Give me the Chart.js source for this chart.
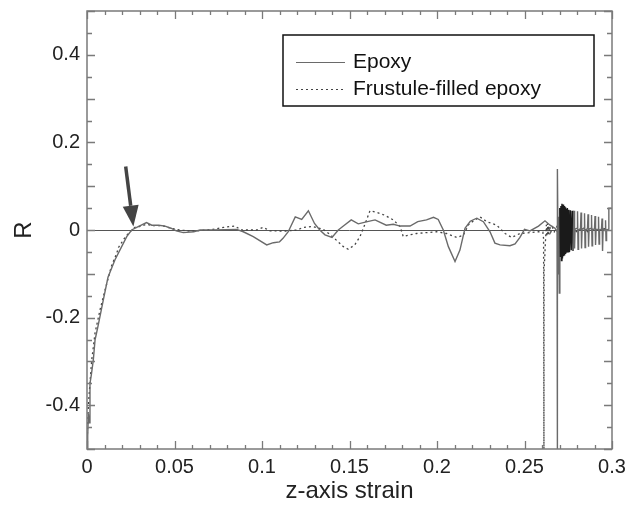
<!DOCTYPE html>
<html>
<head>
<meta charset="utf-8">
<script src="https://cdn.jsdelivr.net/npm/chart.js@4.4.1/dist/chart.umd.min.js"></script>
<style>
html, body { margin: 0; padding: 0; background: #fff; }
</style>
</head>
<body>
<canvas id="rChart" width="634" height="506"></canvas>
<script>
// values: z-axis strain vs R
const epoxyStrain = [
    0.0000, 0.0004, 0.0008, 0.0012, 0.0017, 0.0025, 0.0036, 0.0046, 0.0060, 0.0074,
    0.0093, 0.0120, 0.0160, 0.0198, 0.0227, 0.0255, 0.0284, 0.0310, 0.0340, 0.0370,
    0.0410, 0.0446, 0.0480, 0.0510, 0.0550, 0.0610, 0.0646, 0.0720, 0.0855, 0.0893,
    0.0950, 0.1027, 0.1065, 0.1100, 0.1120, 0.1150, 0.1190, 0.1227, 0.1265, 0.1300,
    0.1330, 0.1360, 0.1400, 0.1436, 0.1465, 0.1510, 0.1550, 0.1590, 0.1646, 0.1710,
    0.1750, 0.1790, 0.1846, 0.1890, 0.1940, 0.1980, 0.2007, 0.2036, 0.2065, 0.2103,
    0.2131, 0.2160, 0.2190, 0.2227, 0.2265, 0.2303, 0.2331, 0.2360, 0.2417, 0.2446,
    0.2474, 0.2500, 0.2531, 0.2580, 0.2617, 0.2646, 0.2674, 0.2686, 0.2687, 0.2689,
    0.2693, 0.2696, 0.2699, 0.2702, 0.2705, 0.2708, 0.2711, 0.2714, 0.2717, 0.2720,
    0.2723, 0.2726, 0.2729, 0.2732, 0.2735, 0.2738, 0.2741, 0.2745, 0.2749, 0.2753,
    0.2757, 0.2762, 0.2767, 0.2772, 0.2777,
    0.2780, 0.2783, 0.2786, 0.2789, 0.2800, 0.2803, 0.2806, 0.2809,
    0.2820, 0.2823, 0.2826, 0.2829, 0.2840, 0.2843, 0.2846, 0.2849,
    0.2860, 0.2863, 0.2866, 0.2869, 0.2880, 0.2883, 0.2886, 0.2889,
    0.2900, 0.2903, 0.2906, 0.2909, 0.2920, 0.2923, 0.2926, 0.2929,
    0.2940, 0.2943, 0.2946, 0.2949, 0.2960, 0.2963, 0.2966, 0.2969,
    0.2981, 0.2982, 0.2998
];
const epoxyR = [
    -0.500, -0.470, -0.420, -0.440, -0.350, -0.330, -0.297, -0.251, -0.225, -0.198,
    -0.160, -0.108, -0.068, -0.038, -0.015,  0.000,  0.006,  0.011,  0.017,  0.011,
     0.011,  0.009,  0.004, -0.002, -0.006, -0.004,  0.000,  0.000,  0.0015, -0.004,
    -0.015, -0.034, -0.029, -0.027, -0.019, -0.004,  0.030,  0.024,  0.044,  0.015,
     0.000, -0.011, -0.017,  0.000,  0.009,  0.023,  0.014,  0.018,  0.023,  0.011,
     0.013,  0.009,  0.009,  0.019,  0.023,  0.029,  0.024,  0.000, -0.038, -0.072,
    -0.046,  0.004,  0.020,  0.027,  0.019, -0.004, -0.030, -0.034, -0.036, -0.032,
    -0.017,  0.0015, -0.002, 0.009,  0.021,  0.011,  0.004, -0.004, -0.500,  0.139,
    -0.100,  0.030, -0.144,  0.050, -0.060,  0.055, -0.070,  0.060, -0.065,  0.058,
    -0.060,  0.055, -0.058,  0.052, -0.055,  0.048, -0.052,  0.050, -0.050,  0.046,
    -0.050,  0.045, -0.046,  0.044, -0.048,
     0.000,  0.044, -0.042,  0.002,  0.004,  0.043, -0.044,  0.000,
     0.003,  0.040, -0.042,  0.002,  0.004,  0.038, -0.040,  0.000,
     0.003,  0.036, -0.038,  0.002,  0.004,  0.034, -0.036,  0.000,
     0.003,  0.032, -0.034,  0.001,  0.002,  0.030, -0.032,  0.000,
     0.002,  0.026, -0.048,  0.000,  0.002,  0.022, -0.024,  0.000,
     0.002,  0.050,  0.050
];
const frustuleStrain = [
    0.0000, 0.0004, 0.0008, 0.0015, 0.0027, 0.0046, 0.0074, 0.0103, 0.0140, 0.0170,
    0.0180, 0.0217, 0.0246, 0.0274, 0.0300, 0.0340, 0.0380, 0.0430, 0.0480, 0.0530,
    0.0600, 0.0720, 0.0780, 0.0846, 0.0880, 0.0970, 0.1007, 0.1046, 0.1080, 0.1120,
    0.1200, 0.1236, 0.1290, 0.1350, 0.1390, 0.1427, 0.1465, 0.1493, 0.1530, 0.1560,
    0.1590, 0.1617, 0.1656, 0.1700, 0.1750, 0.1789, 0.1807, 0.1846, 0.1884, 0.1940,
    0.1998, 0.2055, 0.2113, 0.2150, 0.2180, 0.2208, 0.2246, 0.2284, 0.2341, 0.2389,
    0.2427, 0.2474, 0.2531, 0.2580, 0.2605, 0.2609, 0.2611, 0.2612, 0.2616, 0.2619,
    0.2622, 0.2625, 0.2628, 0.2631, 0.2634, 0.2637, 0.2641, 0.2645, 0.2650, 0.2660,
    0.2670, 0.2690, 0.2710, 0.2730, 0.2750, 0.2770, 0.2800, 0.2830, 0.2860, 0.2890,
    0.2920, 0.2950, 0.2980
];
const frustuleR = [
    -0.500, -0.440, -0.400, -0.360, -0.297, -0.235, -0.183, -0.137, -0.082, -0.053,
    -0.040, -0.017, -0.004,  0.006,  0.008,  0.013,  0.010,  0.010,  0.004,  0.000,
    -0.003,  0.0015, 0.006,  0.009,  0.000,  0.000,  0.006, -0.002, -0.002, -0.003,
     0.000,  0.006,  0.008,  0.0015, -0.011, -0.024, -0.038, -0.044, -0.034, -0.015,
     0.015,  0.044,  0.040,  0.034,  0.023,  0.008, -0.015, -0.011, -0.008, -0.006,
    -0.004, -0.008, -0.017, -0.012,  0.012,  0.021,  0.030,  0.019,  0.011, -0.008,
    -0.017, -0.008, -0.006, -0.004, -0.005, -0.020, -0.500, -0.090, -0.060, -0.030,
    -0.010,  0.012, -0.015,  0.015, -0.012,  0.010, -0.010,  0.008, -0.005,  0.006,
    -0.004,  0.012, -0.010,  0.010, -0.008,  0.008, -0.005,  0.006, -0.004,  0.005,
    -0.003,  0.004,  0.000
];
const seriesNames = ['Epoxy', 'Frustule-filled epoxy'];
const xTickLabels = [0, 0.05, 0.1, 0.15, 0.2, 0.25, 0.3];
const yTickLabels = [-0.4, -0.2, 0, 0.2, 0.4];
const arrowTail = [0.0221, 0.145];
const arrowHead = [0.0265, 0.008];

const toPoints = (xs, ys) => xs.map((x, i) => ({ x: x, y: ys[i] }));
const isLabel = (list, v) => list.some(t => Math.abs(t - v) < 1e-6);

// inward ticks on all four sides + frame
const frameTicks = {
    id: 'frameTicks',
    afterDatasetsDraw(chart) {
        const { ctx, chartArea: a, scales: { x, y } } = chart;
        ctx.save();
        ctx.strokeStyle = '#7a7a7a';
        ctx.lineWidth = 1.3;
        ctx.beginPath();
        x.ticks.forEach(t => {
            const px = Math.round(x.getPixelForValue(t.value)) + 0.5;
            const len = Math.abs(Math.round(t.value * 100) % 5) === 0 ? 8 : 4;
            ctx.moveTo(px, a.bottom); ctx.lineTo(px, a.bottom - len);
            ctx.moveTo(px, a.top); ctx.lineTo(px, a.top + len);
        });
        y.ticks.forEach(t => {
            const py = Math.round(y.getPixelForValue(t.value)) + 0.5;
            const len = Math.abs(Math.round(t.value * 100) % 10) === 0 ? 8 : 5;
            ctx.moveTo(a.left, py); ctx.lineTo(a.left + len, py);
            ctx.moveTo(a.right, py); ctx.lineTo(a.right - len, py);
        });
        ctx.stroke();
        ctx.lineWidth = 1.5;
        ctx.strokeRect(a.left, a.top, a.right - a.left, a.bottom - a.top);

        // arrow pointing at the zero crossing
        const x0 = x.getPixelForValue(arrowTail[0]), y0 = y.getPixelForValue(arrowTail[1]);
        const x1 = x.getPixelForValue(arrowHead[0]), y1 = y.getPixelForValue(arrowHead[1]);
        const ang = Math.atan2(y1 - y0, x1 - x0);
        const headLen = 21, headW = 8;
        const bx = x1 - headLen * Math.cos(ang), by = y1 - headLen * Math.sin(ang);
        ctx.strokeStyle = '#444';
        ctx.fillStyle = '#444';
        ctx.lineWidth = 3.5;
        ctx.beginPath();
        ctx.moveTo(x0, y0); ctx.lineTo(bx, by);
        ctx.stroke();
        ctx.beginPath();
        ctx.moveTo(x1, y1);
        ctx.lineTo(bx + headW * Math.sin(ang), by - headW * Math.cos(ang));
        ctx.lineTo(bx - headW * Math.sin(ang), by + headW * Math.cos(ang));
        ctx.closePath();
        ctx.fill();
        ctx.restore();
    },
    afterDraw(chart) {
        const { ctx } = chart;
        const ds = chart.data.datasets;
        ctx.save();
        ctx.fillStyle = '#fff';
        ctx.fillRect(283, 35, 311, 71);
        ctx.strokeStyle = '#111';
        ctx.lineWidth = 1.5;
        ctx.strokeRect(283, 35, 311, 71);
        ctx.font = '21px "Liberation Sans", Arial, sans-serif';
        ctx.textBaseline = 'middle';
        ds.forEach((d, i) => {
            const yy = 62 + i * 27;
            ctx.strokeStyle = d.borderColor;
            ctx.lineWidth = 1.2;
            ctx.setLineDash(d.borderDash || []);
            ctx.beginPath();
            ctx.moveTo(296, yy + 0.5); ctx.lineTo(345, yy + 0.5);
            ctx.stroke();
            ctx.setLineDash([]);
            ctx.fillStyle = '#111';
            ctx.fillText(d.label, 353, yy);
        });
        ctx.restore();
    }
};

const ctx = document.getElementById('rChart').getContext('2d');
new Chart(ctx, {
    type: 'line',
    data: {
        datasets: [{
            label: seriesNames[0],
            data: toPoints(epoxyStrain, epoxyR),
            borderColor: '#6a6a6a',
            borderWidth: 1.4,
            pointRadius: 0,
            segment: {
                borderColor: c => (c.p0.parsed.x > 0.2699 && c.p0.parsed.x < 0.2775) ? '#1a1a1a' : undefined
            }
        }, {
            label: seriesNames[1],
            data: toPoints(frustuleStrain, frustuleR),
            borderColor: '#444',
            borderWidth: 1.3,
            borderDash: [2, 3],
            pointRadius: 0
        }]
    },
    options: {
        responsive: false,
        animation: false,
        layout: { padding: { top: 11, right: 22 } },
        plugins: { legend: { display: false }, tooltip: { enabled: false } },
        scales: {
            x: {
                type: 'linear',
                min: 0,
                max: 0.3,
                afterFit: s => { s.height = 57; s.paddingLeft = 0; s.paddingRight = 0; },
                grid: { display: false, drawTicks: false },
                border: { display: false },
                ticks: {
                    stepSize: 0.01,
                    autoSkip: false,
                    maxRotation: 0,
                    padding: 6,
                    color: '#222',
                    font: { size: 20, family: '"Liberation Sans", Arial, sans-serif' },
                    callback: v => isLabel(xTickLabels, v) ? String(Math.round(v * 100) / 100) : ''
                },
                title: {
                    display: true,
                    text: 'z-axis strain',
                    color: '#222',
                    padding: { top: 0, bottom: 0 },
                    font: { size: 24, family: '"Liberation Sans", Arial, sans-serif' }
                }
            },
            y: {
                min: -0.5,
                max: 0.5,
                afterFit: s => { s.width = 87; s.paddingTop = 0; s.paddingBottom = 0; },
                grid: {
                    drawTicks: false,
                    color: c => (c.tick && Math.abs(c.tick.value) < 1e-9) ? '#555' : 'transparent',
                    lineWidth: 1
                },
                border: { display: false },
                ticks: {
                    stepSize: 0.05,
                    autoSkip: false,
                    padding: 7,
                    color: '#222',
                    font: { size: 20, family: '"Liberation Sans", Arial, sans-serif' },
                    callback: v => isLabel(yTickLabels, v) ? (Math.abs(v) < 1e-9 ? '0' : v.toFixed(1)) : ''
                },
                title: {
                    display: true,
                    text: 'R',
                    color: '#222',
                    padding: { top: 10, bottom: 0 },
                    font: { size: 24, family: '"Liberation Sans", Arial, sans-serif' }
                }
            }
        }
    },
    plugins: [frameTicks]
});
</script>
</body>
</html>
